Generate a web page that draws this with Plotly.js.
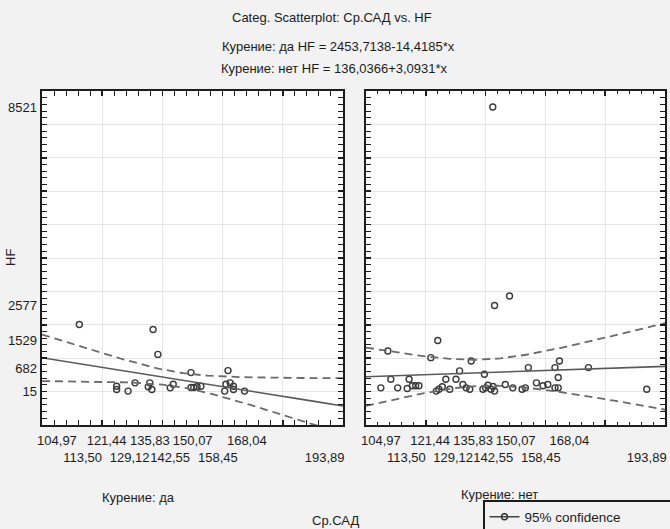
<!DOCTYPE html>
<html><head><meta charset="utf-8">
<script src="https://cdn.plot.ly/plotly-3.0.1.min.js"></script>
<style>html,body{margin:0;padding:0;background:#f2f2f2}</style>
</head><body><div id="chart" style="width:670px;height:529px"></div>
<script>
// ---- data ----
const smokeYesSAD = [112.4,136.9,138.5,149.5,161.8,124.8,124.8,128.6,130.9,135.8,135.3,136.5,142.6,143.6,149.5,150.4,151.5,152.8,160.7,161.1,162.5,163.6,163.6,167.3];
const smokeYesHF  = [2008,1859,1114,569,629,161,63,15,262,262,143,63,113,221,122,122,143,161,15,221,262,161,63,15];
const smokeNoSAD = [142.4,148.0,143.0,124.0,107.3,121.7,135.2,164.7,131.3,139.6,154.3,163.2,174.4,164.3,108.3,114.4,126.7,130.1,104.97,110.6,113.8,115.5,116.6,117.7,123.5,124.4,125.5,128.0,132.4,133.5,134.7,139.1,140.0,140.8,141.8,142.5,143.0,146.6,149.1,152.2,153.3,157.0,159.2,160.8,163.2,164.3,193.89];
const smokeNoHF  = [8521,2863,2577,1529,1216,1016,918,918,620,518,718,718,718,420,370,370,370,370,113,113,92,173,173,173,15,72,143,72,212,113,72,72,113,191,72,152,15,212,113,72,113,262,173,212,113,113,72];
const fitYes = {a: 2453.7138, b: -14.4185};
const fitNo  = {a: 136.0366,  b: 3.0931};
const xTickVals = [104.97,113.50,121.44,129.12,135.83,142.55,150.07,158.45,168.04,193.89];
const xTickText = ["104,97","113,50","121,44","129,12","135,83","142,55","150,07","158,45","168,04","193,89"];
const yTickVals = [15,682,1529,2577,8521];
const yTickText = ["15","682","1529","2577","8521"];
const xRange = [100,200];
const yRange = [-1000,9000];
const panelLabels = ["Курение: да","Курение: нет"];
const titleLines = ["Categ. Scatterplot: Ср.САД vs. HF","Курение: да HF = 2453,7138-14,4185*x","Курение: нет HF = 136,0366+3,0931*x"];
const xTitle = "Ср.САД", yTitle = "HF", legendName = "95% confidence";

// ---- helpers ----
function tq(df){ const z=1.959964; return z+(z*z*z+z)/(4*df)+(5*Math.pow(z,5)+16*z*z*z+3*z)/(96*df*df); }
function bands(xs, ys, fit){
  const n=xs.length, mx=xs.reduce((s,v)=>s+v,0)/n;
  const sxx=xs.reduce((s,v)=>s+(v-mx)*(v-mx),0);
  const sse=xs.reduce((s,v,i)=>s+Math.pow(ys[i]-(fit.a+fit.b*v),2),0);
  const se=Math.sqrt(sse/(n-2)), t=tq(n-2);
  const gx=[],up=[],lo=[],mid=[];
  for(let k=0;k<=100;k++){
    const x=xRange[0]+(xRange[1]-xRange[0])*k/100, yh=fit.a+fit.b*x;
    const h=t*se*Math.sqrt(1/n+(x-mx)*(x-mx)/sxx);
    gx.push(x); mid.push(yh); up.push(yh+h); lo.push(yh-h);
  }
  return {gx,up,lo,mid};
}
const ink='#1c1c1c', font='Liberation Sans, Arial, sans-serif';
// lineX/lineY: axes for the fit lines, ptX/ptY: axes for the points
function panelTraces(xs, ys, fit, lineX, lineY, ptX, ptY){
  const b=bands(xs,ys,fit);
  return [
    {x:b.gx,y:b.up,xaxis:lineX,yaxis:lineY,mode:'lines',line:{color:'#6a6a6a',width:1.8,dash:'8px,5px'},showlegend:false,hoverinfo:'skip'},
    {x:b.gx,y:b.lo,xaxis:lineX,yaxis:lineY,mode:'lines',line:{color:'#6a6a6a',width:1.8,dash:'8px,5px'},showlegend:false,hoverinfo:'skip'},
    {x:b.gx,y:b.mid,xaxis:lineX,yaxis:lineY,mode:'lines',line:{color:'#5a5a5a',width:1.6},showlegend:false},
    {x:xs,y:ys,xaxis:ptX,yaxis:ptY,mode:'markers',marker:{symbol:'circle-open',size:6,color:'#3a3a3a',line:{width:1.4}},showlegend:false}
  ];
}
const traces = [
  ...panelTraces(smokeYesSAD, smokeYesHF, fitYes, 'x3','y', 'x','y3'),
  ...panelTraces(smokeNoSAD, smokeNoHF, fitNo, 'x4','y2', 'x2','y2'),
  {x:[null],y:[null],mode:'lines+markers',name:legendName,line:{color:'#444',width:1.5},marker:{symbol:'circle-open',size:6,color:'#333',line:{width:1.4}}}
];

const W=670,H=529;
const px=v=>v/W, py=v=>1-v/H;
function mainAxis(domain, anchor, range, dtick, minorDtick){
  return {domain, anchor, range, fixedrange:true, showgrid:true, gridcolor:'#e6e6e6', gridwidth:1, zeroline:false,
    showline:true, linecolor:ink, linewidth:2, mirror:'allticks', ticks:'inside', ticklen:5, tickwidth:1.5, tickcolor:ink,
    tickmode:'linear', tick0:0, dtick, showticklabels:false,
    minor:{tickmode:'linear', tick0:0, dtick:minorDtick, ticks:'inside', ticklen:3, tickwidth:1, tickcolor:ink, showgrid:false}};
}
function labelAxis(over, anchor, range, vals, text, side, standoff){
  return {overlaying:over, anchor, range, side, fixedrange:true, tickmode:'array', tickvals:vals, ticktext:text, tickangle:0,
    ticks:'', showgrid:false, zeroline:false, showline:false, ticklabelstandoff:standoff, tickfont:{family:font,size:13,color:ink}};
}
const staggered = xTickText.map((t,i)=> i%2 ? ' <br>'+t : t);
const xd1=[px(42),px(343)], xd2=[px(366),px(665)], yd=[py(425),py(91)];
const layout = {
  width:W, height:H, margin:{l:0,r:0,t:0,b:0,autoexpand:false}, paper_bgcolor:'#f2f2f2', plot_bgcolor:'#ffffff',
  font:{family:font,size:13,color:ink},
  xaxis: mainAxis(xd1,'y',xRange,20,4),
  yaxis: mainAxis(yd,'x',yRange,1000,200),
  xaxis2: mainAxis(xd2,'y2',xRange,20,4),
  yaxis2: mainAxis(yd,'x2',yRange,1000,200),
  xaxis3: labelAxis('x','y',xRange,xTickVals,staggered,'bottom',6),
  xaxis4: labelAxis('x2','y2',xRange,xTickVals,staggered,'bottom',6),
  yaxis3: labelAxis('y','x',yRange,yTickVals,yTickText,'left',4),
  showlegend:true,
  legend:{orientation:'h',x:px(483),y:py(500),xanchor:'left',yanchor:'top',bordercolor:ink,borderwidth:1.5,bgcolor:'rgba(0,0,0,0)',
    entrywidth:150, entrywidthmode:'pixels', font:{family:font,size:13.5,color:ink}},
  annotations:[
    {text:titleLines[0],x:px(332),y:py(18)},
    {text:titleLines[1],x:px(339),y:py(47)},
    {text:titleLines[2],x:px(334),y:py(68)},
    {text:yTitle,x:px(10),y:py(258),textangle:-90},
    {text:panelLabels[0],x:px(138),y:py(497)},
    {text:panelLabels[1],x:px(499),y:py(494)},
    {text:xTitle,x:px(335),y:py(520)}
  ].map(a=>Object.assign({xref:'paper',yref:'paper',xanchor:'center',yanchor:'middle',showarrow:false,font:{family:font,size:13,color:ink}},a))
};
Plotly.newPlot('chart', traces, layout, {staticPlot:true, displayModeBar:false});
</script></body></html>
